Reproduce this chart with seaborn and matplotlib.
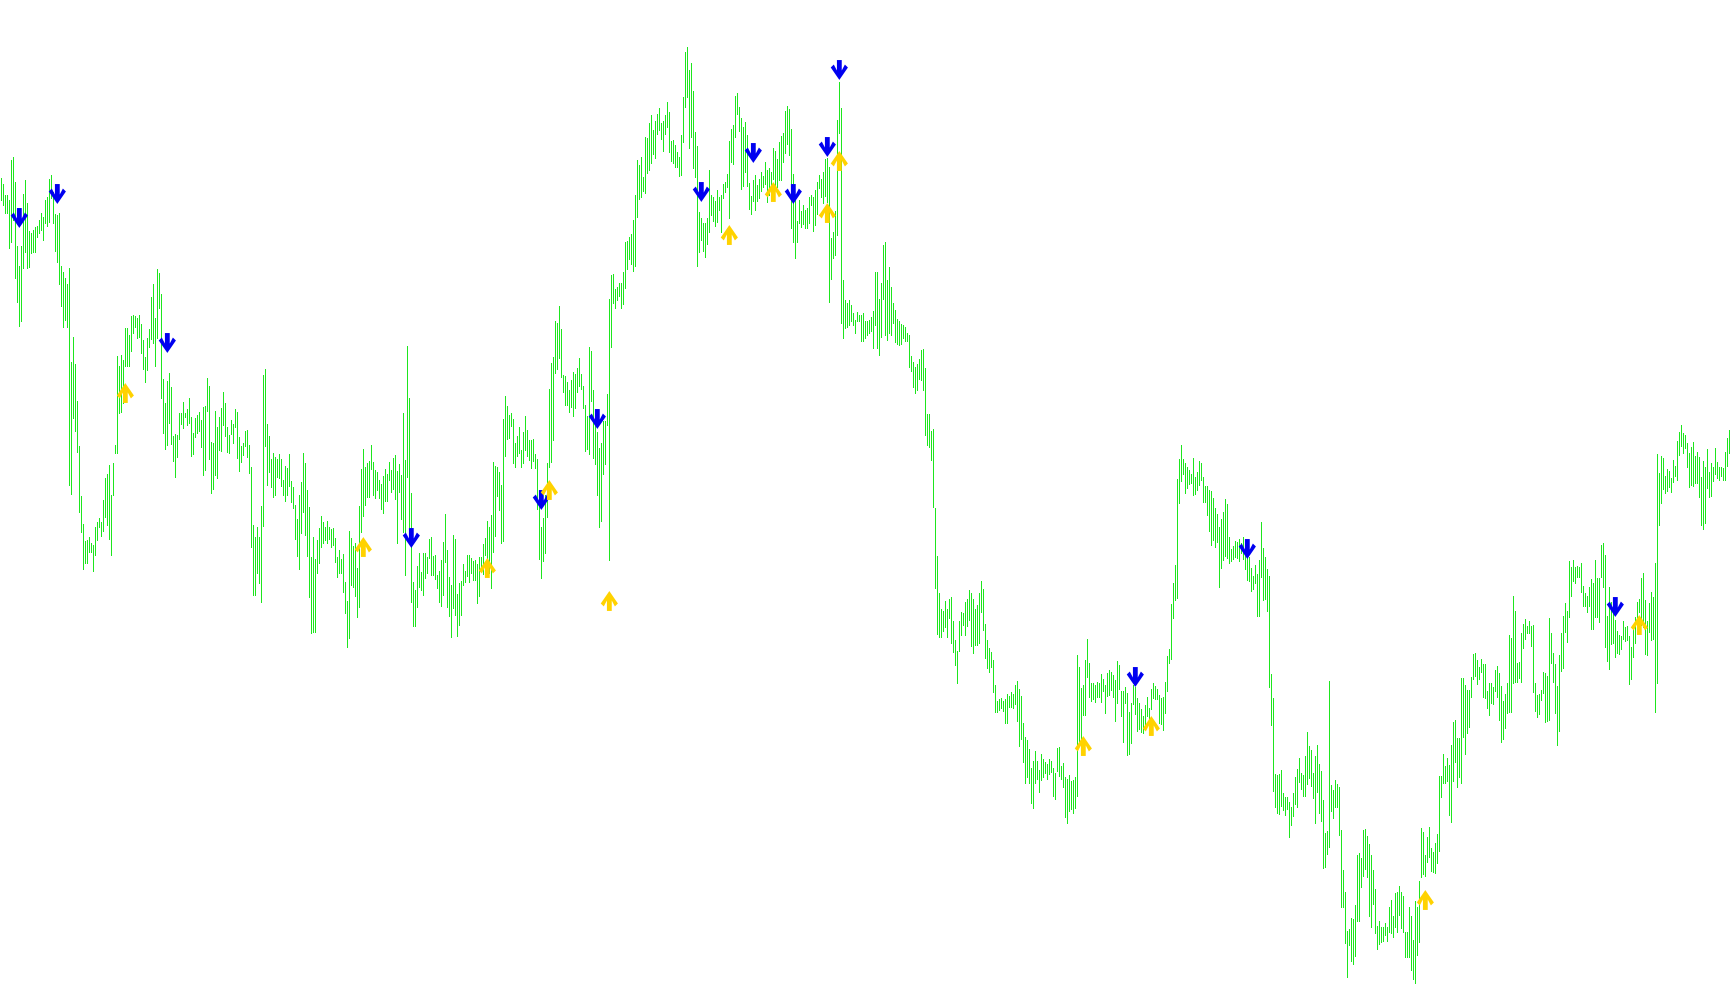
import numpy as np
import pandas as pd
import matplotlib
matplotlib.use('Agg')
import matplotlib.pyplot as plt
from matplotlib.path import Path
import seaborn as sns

# bar highs / lows in points, one value per bar, left to right
highs = [
    2480, 2463, 2430, 2430, 2415, 2535, 2545, 2470, 2277, 2217,
    2277, 2433, 2475, 2405, 2323, 2317, 2325, 2333, 2337, 2355,
    2377, 2365, 2415, 2425, 2477, 2490, 2440, 2373, 2370, 2375,
    2217, 2199, 2181, 2163, 2212, 1930, 2005, 1923, 1812, 1677,
    1527, 1443, 1393, 1395, 1405, 1387, 1380, 1433, 1450, 1460,
    1450, 1515, 1580, 1593, 1620, 1530, 1627, 1680, 1947, 1917,
    1950, 1935, 2030, 2030, 2010, 2067, 2070, 2067, 2060, 2070,
    2043, 1995, 1943, 2000, 2027, 2125, 2163, 2060, 2207, 2197,
    2133, 1877, 1805, 1873, 1895, 1853, 1707, 1713, 1710, 1777,
    1775, 1810, 1775, 1787, 1820, 1763, 1717, 1760, 1770, 1780,
    1755, 1795, 1797, 1880, 1857, 1690, 1687, 1783, 1733, 1763,
    1790, 1840, 1805, 1735, 1710, 1755, 1743, 1787, 1780, 1705,
    1677, 1685, 1723, 1725,
    1680, 1615, 1440, 1405, 1433, 1405, 1497, 1890, 1908, 1743,
    1707, 1637, 1657, 1645, 1637, 1653, 1637, 1575, 1617, 1610,
    1653, 1573, 1553, 1500, 1457, 1530, 1570, 1657, 1627, 1545,
    1493, 1345, 1405, 1337, 1395, 1430, 1467, 1450, 1435, 1453,
    1435, 1427, 1430, 1400, 1345, 1365, 1337, 1353, 1270, 1213,
    1423, 1400, 1377, 1387, 1310, 1497, 1607, 1667, 1615, 1625,
    1633, 1680, 1630, 1605, 1600, 1575, 1563, 1587, 1607, 1593,
    1630, 1605, 1640, 1650, 1603, 1623, 1590, 1777, 1635, 1977,
    1820, 1537, 1270, 1245, 1317, 1355, 1300, 1357, 1355, 1343,
    1397, 1403, 1347, 1350, 1290, 1303, 1335, 1390, 1473, 1365,
    1283, 1260, 1410, 1397, 1233, 1265, 1273, 1323, 1303, 1350,
    1350, 1340, 1333, 1335, 1323, 1343, 1343, 1383, 1400, 1453,
    1435, 1470, 1630, 1617,
    1613, 1599, 1560, 1759, 1826, 1796, 1770, 1777, 1759, 1685,
    1707, 1733, 1666, 1718, 1766, 1726, 1696, 1696, 1699, 1652,
    1637, 1515, 1435, 1460, 1530, 1626, 1848, 1926, 1944, 2051,
    2046, 2096, 2029, 1890, 1888, 1870, 1844, 1874, 1899, 1893,
    1912, 1940, 1893, 1857, 1801, 1768, 1974, 1962, 1844, 1766,
    1718, 1671, 1685, 1752, 1752, 1833, 2118, 2190, 2192, 2148,
    2154, 2166, 2166, 2199, 2290, 2292, 2303, 2312, 2356, 2429,
    2536, 2521, 2543, 2484, 2603, 2601, 2647, 2670, 2625, 2651,
    2673, 2692, 2647, 2651, 2670, 2709, 2678, 2592, 2595, 2581,
    2559, 2543, 2610, 2725, 2860, 2875, 2805, 2825, 2743, 2620,
    2577, 2379, 2362, 2345, 2345, 2362, 2506, 2429, 2423, 2412,
    2445, 2425, 2429, 2462, 2470, 2492, 2592, 2628, 2640, 2728,
    2736, 2695, 2662, 2634,
    2648, 2610, 2466, 2427, 2474, 2489, 2459, 2478, 2498, 2486,
    2530, 2504, 2510, 2498, 2572, 2561, 2537, 2589, 2608, 2616,
    2682, 2696, 2687, 2628, 2492, 2415, 2352, 2415, 2383, 2399,
    2385, 2391, 2423, 2430, 2423, 2444, 2470, 2489, 2478, 2498,
    2539, 2542, 2515, 2302, 2320, 2383, 2655, 2770, 2691, 2174,
    2115, 2106, 2115, 2100, 2077, 2055, 2079, 2071, 2071, 2077,
    2051, 2053, 2055, 2065, 2083, 2198, 2198, 2118, 2166, 2281,
    2288, 2174, 2213, 2154, 2106, 2086, 2059, 2051, 2044, 2039,
    2035, 2017, 2011, 1946, 1928, 1913, 1922, 1937, 1964, 1968,
    1911, 1774, 1774, 1721, 1727, 1490, 1347, 1235, 1187, 1181,
    1211, 1187, 1217, 1223, 1152, 1095, 1063, 1152, 1178, 1175,
    1209, 1217, 1246, 1235, 1217, 1187, 1201, 1235, 1273, 1249,
    1142, 1095, 1071, 1060,
    1035, 960, 913, 917, 920, 913, 917, 933, 927, 940,
    933, 960, 973, 947, 927, 847, 805, 795, 767, 710,
    733, 763, 733, 705, 753, 737, 730, 723, 737, 733,
    710, 695, 770, 775, 717, 725, 683, 677, 690, 673,
    675, 685, 1050, 1015, 950, 960, 1035, 1097, 1025, 965,
    965, 960, 970, 965, 993, 977, 960, 997, 1005, 1000,
    990, 975, 1033, 1020, 943, 943, 955, 935, 880, 907,
    960, 955, 920, 907, 887, 867, 900, 923, 890, 947,
    965, 957, 947, 930, 920, 923, 970, 1047, 1067, 1203,
    1267, 1320, 1577, 1637, 1680, 1637, 1627, 1615, 1605, 1593,
    1640, 1583, 1600, 1633, 1627, 1585, 1557, 1557, 1545, 1543,
    1520, 1490, 1473, 1433, 1457, 1480, 1517, 1503, 1405, 1367,
    1377, 1393, 1390, 1397,
    1387, 1405, 1373, 1357, 1343, 1310, 1287, 1320, 1293, 1335,
    1450, 1370, 1345, 1307, 1287, 993, 920, 693, 690, 693,
    705, 635, 625, 623, 610, 593, 635, 685, 707, 740,
    695, 690, 747, 820, 777, 765, 697, 747, 780, 723,
    703, 615, 517, 523, 973, 660, 645, 675, 663, 655,
    525, 405, 340, 223, 227, 260, 257, 300, 450, 457,
    440, 525, 527, 507, 483, 450, 405, 347, 237, 253,
    233, 233, 245, 233, 293, 315, 267, 335, 340, 357,
    340, 327, 220, 220, 293, 267, 195, 313, 295, 373,
    530, 520, 450, 505, 533, 470, 460, 487, 513, 687,
    687, 753, 717, 740, 720, 780, 850, 855, 800, 800,
    980, 980, 960, 945, 945, 983, 1053, 1057, 1035, 1015,
    1037, 1023, 1023, 943,
    965, 965, 953, 1005, 1017, 995, 957, 913, 933, 965,
    1110, 1100, 1227, 1183, 1025, 1030, 1117, 1143, 1157, 1137,
    1153, 1137, 1140, 965, 930, 933, 945, 1000, 995, 987,
    1160, 1117, 1057, 1023, 957, 1050, 1117, 1167, 1207, 1183,
    1333, 1313, 1335, 1315, 1317, 1313, 1325, 1257, 1237, 1227,
    1253, 1277, 1265, 1335, 1280, 1280, 1380, 1387, 1350, 1167,
    1255, 1210, 1207, 1155, 1123, 1110, 1107, 1153, 1133, 1137,
    1107, 1075, 1135, 1165, 1210, 1217, 1280, 1297, 1215, 1153,
    1207, 1240, 1223, 1327, 1653, 1597, 1647, 1640, 1587, 1607,
    1603, 1580, 1635, 1617, 1693, 1720, 1740, 1717, 1710, 1687,
    1655, 1673, 1690, 1647, 1660, 1645, 1583, 1633, 1613, 1667,
    1600, 1625, 1613, 1670, 1630, 1615, 1613, 1610, 1660, 1700,
    1725,
]

lows = [
    2415, 2400, 2375, 2375, 2270, 2290, 2355, 2180, 2110, 2038,
    2053, 2210, 2260, 2210, 2215, 2255, 2260, 2260, 2305, 2315,
    2325, 2295, 2345, 2337, 2350, 2420, 2347, 2263, 2230, 2162,
    2098, 2035, 2055, 2035, 1560, 1532, 1760, 1723, 1660, 1480,
    1420, 1307, 1325, 1327, 1360, 1360, 1303, 1350, 1395, 1433,
    1407, 1423, 1465, 1440, 1397, 1350, 1530, 1655, 1655, 1775,
    1780, 1805, 1917, 1917, 1917, 1963, 2017, 2035, 2000, 2003,
    1955, 1907, 1870, 1905, 1973, 1997, 1985, 1917, 2000, 2090,
    1820, 1717, 1667, 1680, 1747, 1683, 1633, 1583, 1645, 1697,
    1743, 1730, 1763, 1740, 1745, 1647, 1653, 1705, 1715, 1723,
    1675, 1591, 1605, 1783, 1637, 1537, 1547, 1590, 1580, 1665,
    1663, 1740, 1707, 1660, 1657, 1713, 1687, 1733, 1640, 1603,
    1630, 1650, 1677, 1643,
    1595, 1375, 1230, 1230, 1295, 1265, 1210, 1437, 1677, 1560,
    1600, 1553, 1523, 1530, 1585, 1580, 1557, 1530, 1513, 1530,
    1557, 1510, 1490, 1397, 1347, 1307, 1415, 1480, 1410, 1347,
    1223, 1117, 1120, 1120, 1297, 1327, 1373, 1385, 1395, 1385,
    1397, 1375, 1380, 1330, 1285, 1295, 1295, 1240, 1175, 1075,
    1100, 1260, 1255, 1227, 1165, 1193, 1420, 1467, 1500, 1525,
    1525, 1607, 1530, 1520, 1545, 1520, 1487, 1475, 1513, 1513,
    1575, 1540, 1547, 1517, 1387, 1540, 1457, 1420, 1290, 1585,
    1435, 1210, 1137, 1137, 1193, 1253, 1245, 1230, 1280, 1295,
    1340, 1290, 1290, 1277, 1250, 1210, 1197, 1230, 1330, 1193,
    1167, 1105, 1190, 1170, 1107, 1140, 1170, 1260, 1270, 1287,
    1270, 1297, 1275, 1275, 1207, 1227, 1307, 1293, 1350, 1317,
    1295, 1250, 1360, 1407,
    1526, 1485, 1385, 1393, 1648, 1699, 1702, 1737, 1626, 1615,
    1648, 1657, 1615, 1626, 1666, 1646, 1635, 1611, 1633, 1611,
    1488, 1338, 1282, 1333, 1355, 1463, 1615, 1629, 1696, 1896,
    1907, 1940, 1885, 1840, 1799, 1799, 1779, 1793, 1768, 1790,
    1840, 1857, 1848, 1790, 1663, 1668, 1652, 1813, 1641, 1622,
    1530, 1433, 1452, 1593, 1624, 1740, 1335, 1974, 2107, 2092,
    2115, 2126, 2092, 2103, 2151, 2207, 2237, 2223, 2201, 2218,
    2365, 2418, 2423, 2443, 2436, 2495, 2506, 2525, 2554, 2540,
    2614, 2625, 2598, 2562, 2614, 2634, 2559, 2532, 2525, 2514,
    2514, 2487, 2490, 2590, 2695, 2725, 2570, 2605, 2510, 2485,
    2217, 2259, 2295, 2262, 2245, 2284, 2318, 2370, 2351, 2337,
    2348, 2384, 2318, 2421, 2440, 2454, 2362, 2529, 2523, 2603,
    2673, 2621, 2448, 2456,
    2498, 2456, 2387, 2373, 2411, 2385, 2411, 2421, 2442, 2454,
    2462, 2409, 2430, 2442, 2478, 2459, 2454, 2474, 2474, 2530,
    2557, 2584, 2549, 2332, 2290, 2240, 2288, 2347, 2335, 2344,
    2332, 2332, 2347, 2399, 2323, 2340, 2373, 2450, 2423, 2406,
    2427, 2409, 2110, 2177, 2240, 2249, 2311, 2616, 2047, 2000,
    2032, 2035, 2039, 2051, 2039, 2017, 2051, 2051, 1991, 1991,
    2000, 2011, 2015, 2023, 1972, 2039, 1970, 1949, 2005, 2118,
    2011, 1994, 2017, 2011, 2047, 1988, 1984, 1979, 1982, 2000,
    1991, 1991, 1913, 1901, 1854, 1837, 1845, 1877, 1875, 1845,
    1711, 1679, 1673, 1636, 1493, 1252, 1114, 1104, 1104, 1122,
    1134, 1104, 1161, 1086, 1059, 1020, 965, 1063, 1110, 1140,
    1110, 1137, 1154, 1078, 1055, 1080, 1080, 1086, 1178, 1126,
    1040, 1010, 1000, 1015,
    940, 880, 880, 885, 890, 883, 847, 847, 893, 893,
    890, 903, 853, 777, 797, 730, 665, 683, 665, 605,
    590, 665, 677, 640, 675, 683, 695, 677, 693, 700,
    627, 617, 703, 687, 677, 655, 565, 547, 583, 587,
    577, 590, 627, 790, 797, 870, 870, 985, 925, 913,
    917, 910, 923, 923, 910, 943, 877, 927, 930, 945,
    925, 853, 905, 947, 867, 790, 905, 750, 753, 787,
    903, 873, 823, 827, 820, 815, 840, 867, 840, 887,
    920, 917, 917, 845, 843, 825, 875, 943, 1025, 1037,
    1160, 1215, 1220, 1505, 1573, 1593, 1537, 1550, 1563, 1565,
    1530, 1533, 1545, 1560, 1575, 1510, 1510, 1470, 1423, 1380,
    1395, 1373, 1390, 1253, 1310, 1335, 1347, 1340, 1327, 1333,
    1337, 1343, 1340, 1333,
    1355, 1337, 1307, 1275, 1273, 1243, 1247, 1267, 1167, 1167,
    1283, 1215, 1217, 1183, 953, 840, 643, 593, 575, 573,
    597, 585, 570, 587, 503, 540, 567, 603, 595, 670,
    647, 627, 627, 663, 680, 657, 620, 547, 640, 577,
    553, 410, 413, 453, 473, 583, 560, 593, 593, 510,
    295, 295, 187, 85, 180, 133, 123, 147, 253, 253,
    355, 387, 407, 385, 267, 235, 303, 217, 167, 183,
    190, 193, 210, 193, 220, 215, 203, 235, 220, 270,
    230, 220, 143, 143, 143, 105, 77, 65, 150, 190,
    385, 393, 387, 430, 445, 403, 400, 397, 425, 463,
    623, 667, 667, 673, 570, 550, 673, 730, 653, 683,
    665, 803, 753, 817, 835, 923, 977, 987, 963, 977,
    1000, 923, 920, 890,
    870, 907, 903, 943, 923, 855, 790, 797, 830, 877,
    880, 880, 965, 970, 970, 980, 970, 1070, 1097, 1115,
    1117, 1077, 940, 883, 863, 873, 915, 937, 850, 853,
    855, 1025, 970, 877, 780, 823, 1003, 1010, 1120, 1090,
    1163, 1227, 1273, 1267, 1285, 1285, 1240, 1197, 1197, 1180,
    1197, 1127, 1127, 1165, 1165, 1150, 1285, 1253, 1073, 1033,
    1007, 1083, 1087, 1043, 1057, 1053, 1067, 1097, 1093, 1095,
    963, 977, 1045, 1085, 1130, 1180, 1140, 1135, 1053, 1050,
    1120, 1095, 1097, 880, 967, 1440, 1507, 1547, 1537, 1543,
    1553, 1540, 1570, 1587, 1575, 1650, 1677, 1655, 1670, 1615,
    1553, 1560, 1557, 1567, 1565, 1523, 1440, 1427, 1447, 1550,
    1523, 1527, 1573, 1593, 1580, 1575, 1587, 1575, 1575, 1617,
    1657,
]

# signal arrows: bar number and price level of the arrow
sell_bars = [9, 28, 83, 205, 270, 298, 350, 376, 396, 413, 419, 567, 623, 807]
sell_levels = [2361, 2433, 1986, 1401, 1515, 1758, 2439, 2556, 2433, 2574, 2805, 984, 1368, 1194]
buy_bars = [62, 181, 243, 274, 304, 364, 386, 413, 419, 541, 575, 712, 819]
buy_levels = [1836, 1374, 1311, 1545, 1212, 2310, 2439, 2376, 2532, 777, 837, 315, 1140]


def arrow(direction):
    pts = [(-2.3, 9.5), (2.3, 9.5), (2.3, -0.5), (5.3, 5.2), (8.2, 2.4), (0, -9.5),
           (-8.2, 2.4), (-5.3, 5.2), (-2.3, -0.5), (-2.3, 9.5)]
    if direction == 'up':
        pts = [(x, -y) for x, y in pts]
    return Path(pts, closed=True)


def main():
    sns.set_style('white')

    n = len(highs)
    bars = pd.DataFrame({
        'bar': np.repeat(np.arange(n), 2),
        'id': np.repeat(np.arange(n), 2),
        'price': np.column_stack([lows, highs]).ravel(),
    })

    fig = plt.figure(figsize=(17.3, 10.05), dpi=100)
    ax = fig.add_axes([0, 0, 1, 1])
    sns.lineplot(data=bars, x='bar', y='price', units='id', estimator=None,
                 sort=False, color='#1ee61e', linewidth=0.72,
                 antialiased=False, ax=ax)

    sns.scatterplot(x=sell_bars, y=sell_levels, marker=arrow('down'), s=205,
                    color='#0000f0', edgecolor='none', linewidth=0, ax=ax, zorder=5)
    sns.scatterplot(x=buy_bars, y=buy_levels, marker=arrow('up'), s=205,
                    color='#ffd200', edgecolor='none', linewidth=0, ax=ax, zorder=5)

    ax.set_xlim(-0.667, n - 0.667)
    ax.set_ylim(0, 3015)
    ax.set_axis_off()
    fig.savefig('out.png', dpi=100, facecolor='white')
    plt.close(fig)


if __name__ == '__main__':
    main()
